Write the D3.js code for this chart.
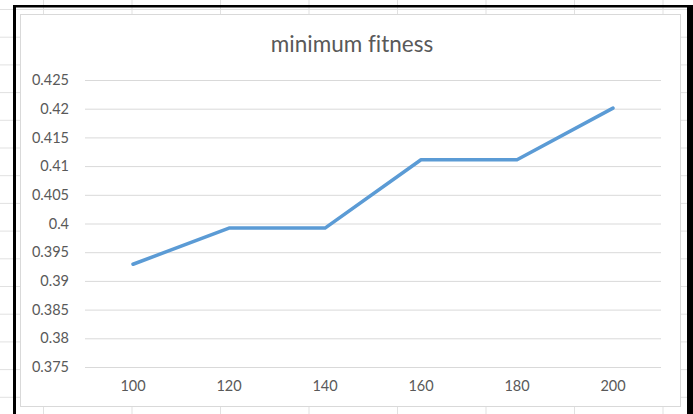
<!DOCTYPE html>
<html>
<head>
<meta charset="utf-8">
<script src="https://cdn.jsdelivr.net/npm/d3@7/dist/d3.min.js"></script>
<style>
  html, body { margin: 0; padding: 0; background: #fff; }
  svg { display: block; }
  text { font-variant-ligatures: none; }
</style>
</head>
<body>
<div id="container"></div>
<script>
// chart values
const categories = ['100', '120', '140', '160', '180', '200'];
const minFitness = [0.3929, 0.3992, 0.3992, 0.4111, 0.4111, 0.4201];
const yTicks = [0.375, 0.38, 0.385, 0.39, 0.395, 0.4, 0.405, 0.41, 0.415, 0.42, 0.425];
const title = 'minimum fitness';

const width = 693, height = 414;
const textColor = '#595959';
const gridColor = '#d9d9d9';

const svg = d3.select('#container')
  .append('svg')
  .attr('width', width)
  .attr('height', height)
  .attr('viewBox', `0 0 ${width} ${height}`);

// spreadsheet cells behind the chart object
const sheet = svg.append('g').attr('stroke', '#e1e1e1').attr('stroke-width', 1);
for (let x = 43.5; x < width; x += 88.5) {
  sheet.append('line').attr('x1', x).attr('x2', x).attr('y1', 0).attr('y2', height);
}
for (let y = 9.5; y < height; y += 27.7) {
  sheet.append('line').attr('x1', 0).attr('x2', width).attr('y1', y).attr('y2', y);
}

// chart object (white box with thin grey border)
svg.append('rect')
  .attr('x', 20.5)
  .attr('y', 14.5)
  .attr('width', 660)
  .attr('height', 392)
  .attr('fill', '#fff')
  .attr('stroke', gridColor)
  .attr('stroke-width', 1);

// black frame of the screenshot
svg.append('rect').attr('x', 13).attr('y', 5).attr('width', 677).attr('height', 2.5).attr('fill', '#000');
svg.append('rect').attr('x', 13).attr('y', 5).attr('width', 3).attr('height', height).attr('fill', '#000');
svg.append('rect').attr('x', 687).attr('y', 5).attr('width', 6).attr('height', height).attr('fill', '#000');

// scales
const x = d3.scaleBand()
  .domain(categories)
  .range([85, 661])
  .padding(0);

const y = d3.scaleLinear()
  .domain([0.375, 0.425])
  .range([367, 80]);

const fmt = d => String(+d.toFixed(3));

// gridlines + y labels
const yAxis = d3.axisLeft(y)
  .tickValues(yTicks)
  .tickFormat(fmt)
  .tickSize(-(661 - 85))
  .tickPadding(16);

const gy = svg.append('g')
  .attr('transform', 'translate(85,0)')
  .call(yAxis);
gy.select('.domain').remove();
gy.selectAll('.tick line')
  .attr('stroke', gridColor)
  .attr('stroke-width', 1);
gy.selectAll('.tick text')
  .attr('fill', textColor)
  .attr('font-family', 'Lato, sans-serif')
  .attr('font-size', 14.5);

// x labels
const xAxis = d3.axisBottom(x).tickSize(0).tickPadding(14);
const gx = svg.append('g')
  .attr('transform', 'translate(0,367)')
  .call(xAxis);
gx.select('.domain').remove();
gx.selectAll('.tick text')
  .attr('fill', textColor)
  .attr('font-family', 'Lato, sans-serif')
  .attr('font-size', 14.5);

// series line
const line = d3.line()
  .x((d, i) => x(categories[i]) + x.bandwidth() / 2)
  .y(d => y(d));

svg.append('path')
  .datum(minFitness)
  .attr('d', line)
  .attr('fill', 'none')
  .attr('stroke', '#5b9bd5')
  .attr('stroke-width', 3.5)
  .attr('stroke-linejoin', 'round')
  .attr('stroke-linecap', 'round');

// title
svg.append('text')
  .attr('x', 352)
  .attr('y', 52)
  .attr('text-anchor', 'middle')
  .attr('fill', textColor)
  .attr('font-family', 'Lato, sans-serif')
  .attr('font-size', 22.5)
  .text(title);
</script>
</body>
</html>
